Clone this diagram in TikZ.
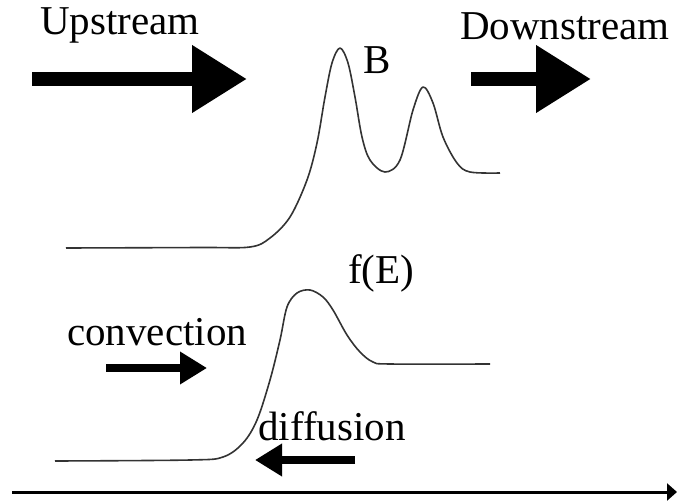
\documentclass[tikz,border=0pt]{standalone}
\usepackage{fontspec}
\setmainfont{Liberation Serif}
\usetikzlibrary{arrows.meta}
\tikzset{
  lbl/.style={anchor=base west, inner sep=0pt, font=\fontsize{41}{48}\selectfont},
  fatarrow/.style={line width=14pt, -{Triangle[length=55pt,width=64pt]}},
  smallarrow/.style={line width=8pt, -{Triangle[length=27pt,width=31pt]}},
  axisline/.style={line width=3pt, -{Triangle[length=10pt,width=17pt]}},
  spectrum/.style={line width=1.6pt, draw=black!80, line join=round},
}

\begin{document}
\begin{tikzpicture}[x=1pt, y=-1pt]
  \useasboundingbox (0,0) rectangle (678,503);

  % labels
  \node[lbl] (up)   at (40,35)  {Upstream};
  \node[lbl] (down) at (460,40) {Downstream};
  \node[lbl] (lblB) at (363,74) {B};
  \node[lbl] (lblf) at (348,283) {f(E)};
  \node[lbl] (conv) at (67,345) {convection};
  \node[lbl] (diff) at (258,440) {diffusion};

  % flow arrows
  \coordinate (upS) at (32,79);   \coordinate (upE) at (247,79);
  \coordinate (dnS) at (471,79);  \coordinate (dnE) at (591,79);
  \coordinate (cvS) at (106,368); \coordinate (cvE) at (207,368);
  \coordinate (dfS) at (355,460); \coordinate (dfE) at (255,460);
  \coordinate (axS) at (12,492);  \coordinate (axE) at (677,492);
  \draw[fatarrow] (upS) -- (upE);
  \draw[fatarrow] (dnS) -- (dnE);
  \draw[smallarrow] (cvS) -- (cvE);
  \draw[smallarrow] (dfS) -- (dfE);
  \draw[axisline] (axS) -- (axE);

  % magnetic field B
  \draw[spectrum] plot[smooth, tension=0.55] coordinates {
    (66,248) (200,247.5) (250,247) (270,238) (290,217) (307,180) (317,143)
    (325,97) (332,63) (340,48) (348,63) (355,97) (362,137) (370,160)
    (385,172) (400,160) (413,110) (423,87) (433,103) (443,137) (457,163)
    (470,172) (500,173)};

  % distribution f(E)
  \draw[spectrum] plot[smooth, tension=0.55] coordinates {
    (55,461) (190,460) (223,457) (243,443) (257,420) (270,380) (280,340)
    (287,307) (297,293) (310,290) (323,297) (333,310) (347,335) (360,352)
    (373,362) (390,364) (490,364)};
\end{tikzpicture}
\end{document}
